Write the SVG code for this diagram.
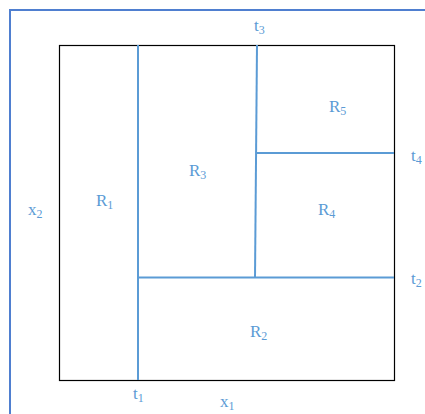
<svg xmlns="http://www.w3.org/2000/svg" width="425" height="414" viewBox="0 0 425 414">
<style>
.ax{fill:none;stroke:#4F7FD0;stroke-width:2}
.sp{fill:none;stroke:#5B9BD5;stroke-width:2}
.bx{fill:none;stroke:#000;stroke-width:1.2}
text{font-family:"Liberation Serif",serif;font-size:17px;fill:#5B9BD5}
.s{font-size:12px}
</style>
<rect width="425" height="414" fill="#fff"/>
<g id="axes"><path class="ax" d="M10,414 V10 H425"/></g>
<g id="box"><rect class="bx" x="59.5" y="45.5" width="335" height="335"/></g>
<g id="connectors">
<path class="sp" d="M138,45 V380"/>
<path class="sp" d="M138,277.5 H394"/>
<path class="sp" d="M257,45 L255,277.5"/>
<path class="sp" d="M256,153 H394"/>
</g>
<g id="R1"><text x="96" y="206">R<tspan class="s" dy="3">1</tspan></text></g>
<g id="R2"><text x="250" y="337">R<tspan class="s" dy="3">2</tspan></text></g>
<g id="R3"><text x="189" y="176">R<tspan class="s" dy="3">3</tspan></text></g>
<g id="R4"><text x="318" y="215">R<tspan class="s" dy="3">4</tspan></text></g>
<g id="R5"><text x="329" y="112">R<tspan class="s" dy="3">5</tspan></text></g>
<g id="labels">
<text x="254" y="31">t<tspan class="s" dy="3">3</tspan></text>
<text x="411" y="161">t<tspan class="s" dy="3">4</tspan></text>
<text x="411" y="284">t<tspan class="s" dy="3">2</tspan></text>
<text x="133" y="399">t<tspan class="s" dy="3">1</tspan></text>
<text x="220" y="407">x<tspan class="s" dy="3">1</tspan></text>
<text x="28" y="215">x<tspan class="s" dy="3">2</tspan></text>
</g>
</svg>
